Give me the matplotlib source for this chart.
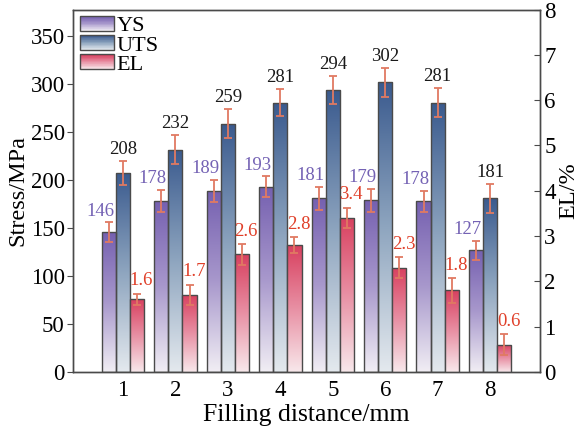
import numpy as np
import matplotlib.pyplot as plt
from matplotlib.colors import LinearSegmentedColormap
from matplotlib.patches import Rectangle
from matplotlib.legend_handler import HandlerBase

plt.rcParams['font.family'] = ['Liberation Serif', 'DejaVu Serif']

distance = [1, 2, 3, 4, 5, 6, 7, 8]
ys = [146, 178, 189, 193, 181, 179, 178, 127]
ys_err = [10, 11.5, 11.5, 11, 12, 12, 11, 10]
uts = [208, 232, 259, 281, 294, 302, 281, 181]
uts_err = [12.5, 15, 15, 14.5, 15, 15, 15, 15]
el = [1.6, 1.7, 2.6, 2.8, 3.4, 2.3, 1.8, 0.6]
el_err = [0.13, 0.23, 0.23, 0.17, 0.23, 0.23, 0.28, 0.23]

cm_ys = LinearSegmentedColormap.from_list('ys', ['#f1eef4', '#a898cc', '#7560b0'])
cm_uts = LinearSegmentedColormap.from_list('uts', ['#e4e9ee', '#8ea5bf', '#3a5a8e'])
cm_el = LinearSegmentedColormap.from_list('el', ['#f8e8eb', '#e890a4', '#d8405f'])
err_col = '#e07a62'
edge = '#4a4a4a'
w = 0.27


class GradHandler(HandlerBase):
    def __init__(self, cmap):
        super().__init__()
        self.cmap = cmap

    def create_artists(self, legend, orig_handle, xdescent, ydescent,
                       width, height, fontsize, trans):
        n = 24
        arts = []
        for i in range(n):
            r = Rectangle((-xdescent, -ydescent + i * height / n), width, height / n + 0.2,
                          facecolor=self.cmap(i / (n - 1)), edgecolor='none', transform=trans)
            arts.append(r)
        arts.append(Rectangle((-xdescent, -ydescent), width, height, facecolor='none',
                              edgecolor=edge, lw=1, transform=trans))
        return arts


def grad_bars(ax, xs, vals, errs, cmap):
    bars = ax.bar(xs, vals, w, facecolor='none', edgecolor=edge, lw=1, zorder=3)
    grad = np.linspace(0, 1, 256).reshape(-1, 1)
    for b in bars:
        x0 = b.get_x()
        h = b.get_height()
        im = ax.imshow(grad, cmap=cmap, origin='lower', aspect='auto',
                       extent=(x0, x0 + b.get_width(), 0, h), zorder=2)
        im.set_clip_path(b)
    ax.errorbar(xs, vals, yerr=errs, fmt='none', ecolor=err_col, elinewidth=1.3,
                capsize=2.8, capthick=1.3, zorder=4)
    return bars


fig = plt.figure(figsize=(5.85, 4.34), dpi=100)
ax = fig.add_axes([0.125, 0.143, 0.798, 0.835])
ax2 = ax.twinx()

x = np.array(distance, dtype=float)
grad_bars(ax, x - w, ys, ys_err, cm_ys)
grad_bars(ax, x, uts, uts_err, cm_uts)
grad_bars(ax2, x + w, el, el_err, cm_el)

for xi, v, e in zip(x, ys, ys_err):
    ax.annotate(str(v), (xi - w, v + e), xytext=(-6, 2), textcoords='offset points',
                ha='center', va='bottom', fontsize=13.5, color='#7462b4')
for xi, v, e in zip(x, uts, uts_err):
    ax.annotate(str(v), (xi, v + e), xytext=(0, 2), textcoords='offset points',
                ha='center', va='bottom', fontsize=13.5, color='#1a1a1a')
for xi, v, e in zip(x, el, el_err):
    ax2.annotate(f'{v:.1f}', (xi + w, v + e), xytext=(3, 3), textcoords='offset points',
                 ha='center', va='bottom', fontsize=13.5, color='#e0402a')

ax.set_xlim(0.05, 8.95)
ax.set_ylim(0, 378)
ax2.set_ylim(0, 8)
ax.set_xticks(distance)
ax.set_yticks(np.arange(0, 351, 50))
ax2.set_yticks(np.arange(0, 9, 1))

ax.tick_params(axis='y', direction='out', labelsize=16.5, length=4, color=edge, pad=2)
ax.tick_params(axis='x', direction='in', labelsize=16.5, length=4, color=edge, pad=6)
ax2.tick_params(axis='y', direction='in', labelsize=16.5, length=4, color=edge, pad=3)
for a in (ax, ax2):
    for s in a.spines.values():
        s.set_color(edge)
        s.set_linewidth(1)

ax.set_ylabel('Stress/MPa', fontsize=17.5, labelpad=2)
ax2.set_ylabel('EL/%', fontsize=17.5, labelpad=2)
ax.set_xlabel('Filling distance/mm', fontsize=18.5, labelpad=2)

proxies = [Rectangle((0, 0), 1, 1) for _ in range(3)]
ax.legend(proxies, ['YS', 'UTS', 'EL'],
          handler_map={proxies[0]: GradHandler(cm_ys), proxies[1]: GradHandler(cm_uts),
                       proxies[2]: GradHandler(cm_el)},
          loc='upper left', frameon=False, fontsize=16, handlelength=1.55, handleheight=0.65,
          labelspacing=-0.05, handletextpad=0.1, borderaxespad=0.15, borderpad=0.15)

fig.savefig('out.png', dpi=100)
